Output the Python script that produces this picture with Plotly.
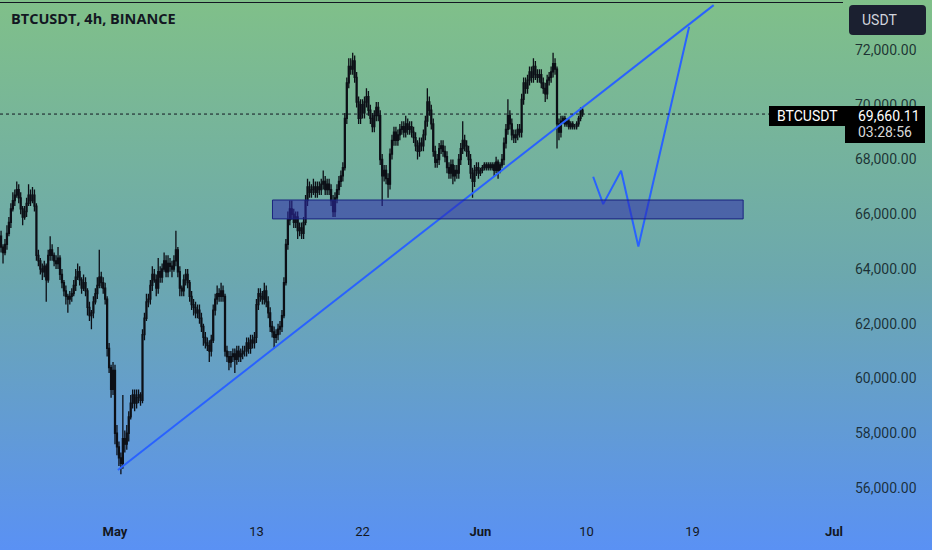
import base64
import pandas as pd
import plotly.graph_objects as go

# ---------------- data ----------------
start_time = "2024-04-21 00:00"
first_open = 64900

close = [
    65000, 65200, 64800, 64600, 64900, 65300,  # Apr 21
    65700, 66200, 66500, 66700, 66900, 66600,  # Apr 22
    66200, 65900, 66100, 66400, 66700, 66500,  # Apr 23
    66700, 66300, 64500, 64300, 64000, 63900,  # Apr 24
    64100, 63600, 64500, 64700, 64500, 64300,  # Apr 25
    64200, 64400, 63800, 63500, 63200, 63000,  # Apr 26
    62900, 63000, 63100, 63400, 63700, 63900,  # Apr 27
    63600, 63300, 63500, 63200, 62600, 62300,  # Apr 28
    62400, 62800, 63100, 63400, 63700, 63500,  # Apr 29
    63300, 62900, 61100, 60400, 59600, 60300,  # Apr 30
    58000, 57500, 57100, 56900, 57800, 57600,  # May 1
    58000, 58600, 59100, 59400, 59100, 59300,  # May 2
    59400, 59200, 61600, 62200, 62800, 62900,  # May 3
    63400, 63800, 63600, 63300, 63900, 63700,  # May 4
    64000, 64300, 63900, 64200, 64100, 64000,  # May 5
    64300, 64700, 63900, 63300, 63200, 63600,  # May 6
    63800, 63500, 63000, 62700, 62600, 62400,  # May 7
    62500, 62200, 61900, 61500, 61300, 61200,  # May 8
    61000, 61400, 62500, 62900, 63100, 63000,  # May 9
    63200, 63000, 61000, 60800, 60600, 60800,  # May 10
    60900, 60700, 61000, 60800, 60900, 61000,  # May 11
    61000, 61300, 61100, 61400, 61300, 61500,  # May 12
    62700, 63100, 63000, 62900, 63200, 62800,  # May 13
    62400, 61900, 61700, 61500, 61600, 61800,  # May 14
    61900, 62300, 63500, 64900, 65800, 66200,  # May 15
    66000, 65700, 65900, 65400, 65500, 65300,  # May 16
    65700, 66500, 67000, 66800, 66900, 67000,  # May 17
    66800, 67000, 66900, 67100, 67200, 66900,  # May 18
    67100, 66900, 66500, 66100, 66600, 66900,  # May 19
    67200, 67400, 67700, 69500, 70800, 71400,  # May 20
    71300, 71600, 71000, 70100, 69500, 70000,  # May 21
    69700, 70100, 70300, 69800, 69500, 69200,  # May 22
    69600, 69900, 69600, 68000, 67400, 67600,  # May 23
    67300, 67100, 68200, 68700, 69000, 68700,  # May 24
    68900, 69100, 69200, 69000, 69300, 69100,  # May 25
    69200, 69000, 68800, 68500, 68300, 68600,  # May 26
    68500, 68900, 69400, 70100, 69800, 69300,  # May 27
    68300, 67900, 68000, 68400, 68500, 68300,  # May 28
    68100, 67700, 67500, 67800, 67400, 67600,  # May 29
    67500, 68000, 68400, 68700, 68500, 68300,  # May 30
    68000, 67500, 67200, 67600, 67700, 67500,  # May 31
    67600, 67700, 67800, 67700, 67800, 67700,  # Jun 1
    67800, 67600, 67900, 67600, 67800, 68000,  # Jun 2
    68600, 69100, 69600, 69300, 68900, 68800,  # Jun 3
    68900, 69100, 69000, 70200, 70800, 70600,  # Jun 4
    70900, 71200, 71000, 71400, 71100, 71000,  # Jun 5
    71100, 70800, 70600, 70400, 70900, 71000,  # Jun 6
    71200, 71500, 71300, 69300, 69000, 69400,  # Jun 7
    69500, 69300, 69400, 69200, 69300, 69200,  # Jun 8
    69200, 69300, 69500, 69800, 69660.11,      # Jun 9
]

# wick lengths above / below the body, in hundreds of USDT
wick_up = [
    2, 3, 2, 1, 2, 3,   2, 2, 3, 2, 3, 2,   2, 1, 2, 2, 4, 2,   3, 2, 1, 2, 1, 2,
    2, 1, 2, 5, 2, 1,   2, 4, 1, 2, 1, 2,   1, 2, 2, 2, 3, 3,   2, 1, 3, 2, 1, 2,
    1, 2, 2, 3, 10, 2,  2, 2, 1, 2, 1, 3,   2, 3, 2, 2, 16, 3,  3, 2, 3, 2, 2, 3,
    2, 1, 2, 2, 3, 2,   2, 3, 2, 2, 5, 2,   2, 3, 2, 3, 2, 2,   2, 7, 1, 2, 1, 2,
    2, 2, 1, 2, 2, 2,   2, 2, 2, 1, 2, 2,   2, 2, 2, 2, 3, 2,   3, 2, 1, 2, 2, 2,
    2, 2, 2, 2, 2, 2,   2, 2, 2, 2, 2, 2,   2, 2, 2, 2, 3, 2,   2, 2, 2, 2, 2, 2,
    2, 2, 2, 2, 3, 3,   3, 2, 2, 2, 2, 2,   2, 2, 3, 2, 2, 3,   2, 2, 2, 2, 4, 2,
    2, 2, 2, 2, 2, 2,   2, 2, 2, 2, 2, 3,   3, 3, 2, 2, 2, 2,   2, 2, 3, 2, 2, 2,
    2, 2, 2, 2, 2, 2,   2, 2, 2, 2, 2, 2,   2, 2, 2, 2, 3, 2,   2, 2, 2, 2, 2, 2,
    2, 2, 2, 5, 2, 2,   2, 2, 2, 2, 2, 2,   2, 2, 2, 2, 2, 2,   2, 2, 2, 7, 2, 2,
    2, 2, 2, 2, 2, 2,   1, 1, 1, 1, 1, 1,   1, 1, 2, 1, 1, 2,   2, 2, 6, 2, 2, 2,
    2, 2, 2, 2, 2, 2,   2, 2, 2, 3, 2, 2,   2, 2, 2, 2, 2, 2,   2, 4, 2, 1, 2, 2,
    1, 1, 1, 1, 1, 1,   1, 1, 1, 1, 1,
]
wick_dn = [
    2, 2, 2, 4, 1, 2,   1, 2, 1, 2, 1, 2,   2, 3, 1, 2, 1, 2,   1, 2, 2, 2, 2, 3,
    2, 8, 1, 2, 2, 2,   2, 2, 2, 2, 2, 3,   5, 2, 2, 1, 2, 1,   2, 2, 1, 2, 3, 2,
    5, 2, 1, 2, 1, 2,   2, 2, 3, 2, 3, 2,   4, 3, 3, 4, 2, 3,   2, 3, 1, 2, 3, 2,
    2, 2, 1, 2, 1, 2,   2, 2, 1, 3, 2, 2,   2, 1, 2, 2, 2, 3,   1, 2, 2, 3, 2, 2,
    2, 2, 2, 2, 3, 2,   2, 2, 2, 3, 2, 2,   4, 2, 1, 2, 2, 2,   2, 2, 2, 2, 3, 2,
    2, 5, 2, 2, 2, 2,   2, 2, 2, 2, 2, 2,   2, 2, 2, 2, 2, 2,   2, 2, 2, 4, 2, 2,
    2, 2, 1, 1, 2, 2,   2, 2, 2, 3, 2, 2,   2, 1, 2, 2, 2, 2,   2, 2, 2, 2, 2, 2,
    2, 2, 2, 2, 2, 2,   2, 2, 2, 1, 2, 2,   2, 2, 2, 2, 2, 2,   2, 2, 2, 2, 2, 2,
    2, 2, 2, 2, 11, 2,  2, 5, 2, 2, 2, 2,   2, 2, 2, 2, 2, 2,   2, 2, 2, 2, 3, 2,
    2, 2, 2, 2, 2, 2,   2, 2, 2, 2, 2, 2,   2, 2, 2, 2, 3, 2,   2, 2, 2, 2, 2, 2,
    2, 2, 6, 2, 2, 2,   1, 1, 1, 1, 1, 1,   1, 2, 1, 3, 1, 1,   2, 2, 2, 2, 2, 2,
    2, 2, 2, 2, 2, 2,   2, 2, 2, 2, 2, 2,   2, 2, 2, 3, 2, 2,   2, 2, 2, 9, 3, 2,
    1, 1, 1, 1, 1, 1,   1, 1, 1, 1, 1,
]

last_price = 69660.11
last_price_text = "69,660.11"
countdown_text = "03:28:56"

# drawings
trend_t = ["2024-05-01 06:00", "2024-06-20 19:00"]
trend_p = [56660, 73640]
proj_t = ["2024-06-10 13:40", "2024-06-11 10:00", "2024-06-12 22:30",
          "2024-06-14 09:40", "2024-06-18 17:00"]
proj_p = [67370, 66370, 67590, 64820, 72850]
zone_t = ["2024-05-14 08:40", "2024-06-23 07:00"]
zone_p = [65830, 66520]

y_ticks = [56000, 58000, 60000, 62000, 64000, 66000, 68000, 70000, 72000]
x_ticks = ["2024-05-01", "2024-05-13", "2024-05-22", "2024-06-01",
           "2024-06-10", "2024-06-19", "2024-07-01"]
x_ticktext = ["<b>May</b>", "13", "22", "<b>Jun</b>", "10", "19", "<b>Jul</b>"]

# ---------------- build ----------------
n = len(close)
times = pd.date_range(start_time, periods=n, freq="4h")
opens = [first_open] + close[:-1]
highs = [max(o, c) + u * 100 for o, c, u in zip(opens, close, wick_up[:n])]
lows = [min(o, c) - d * 100 for o, c, d in zip(opens, close, wick_dn[:n])]

W, H = 932, 550
ML, MR, MT, MB = 0, 89, 3, 32
PW, PH = W - ML - MR, H - MT - MB


def px(x):
    return (x - ML) / PW


def py(y):
    return (MT + PH - y) / PH


candle_col = "#0c0f16"
fig = go.Figure()
fig.add_trace(go.Candlestick(
    x=times, open=opens, high=highs, low=lows, close=close,
    increasing=dict(line=dict(color=candle_col, width=1.3), fillcolor=candle_col),
    decreasing=dict(line=dict(color=candle_col, width=1.3), fillcolor=candle_col),
    whiskerwidth=0, showlegend=False, hoverinfo="skip",
))
blue = "#2962ff"
fig.add_trace(go.Scatter(x=trend_t, y=trend_p, mode="lines",
                         line=dict(color=blue, width=2), showlegend=False,
                         hoverinfo="skip"))
fig.add_trace(go.Scatter(x=proj_t, y=proj_p, mode="lines",
                         line=dict(color=blue, width=2), showlegend=False,
                         hoverinfo="skip"))

# gradient background
svg = ('<svg xmlns="http://www.w3.org/2000/svg" width="932" height="550" '
       'preserveAspectRatio="none"><defs><linearGradient id="g" x1="0" y1="0" '
       'x2="0" y2="1"><stop offset="0" stop-color="#80c089"/>'
       '<stop offset="0.5" stop-color="#6ca8ae"/>'
       '<stop offset="1" stop-color="#5a91f4"/></linearGradient></defs>'
       '<rect width="932" height="550" fill="url(#g)"/></svg>')
src = "data:image/svg+xml;base64," + base64.b64encode(svg.encode()).decode()

shapes = [
    # support zone
    dict(type="rect", xref="x", yref="y", x0=zone_t[0], x1=zone_t[1],
         y0=zone_p[0], y1=zone_p[1], fillcolor="rgba(45,40,170,0.55)",
         line=dict(color="#1a237e", width=1), layer="above"),
    # last price dotted line
    dict(type="line", xref="paper", yref="y", x0=0, x1=px(769),
         y0=last_price, y1=last_price,
         line=dict(color="#131722", width=1, dash="dot")),
    # top border line
    dict(type="line", xref="paper", yref="paper", x0=0, x1=px(843),
         y0=py(2.5), y1=py(2.5), line=dict(color="#131722", width=1.2)),
    # price label boxes
    dict(type="rect", xref="paper", yref="paper", x0=px(769), x1=px(845),
         y0=py(126), y1=py(106), fillcolor="#000000", line=dict(width=0)),
    dict(type="rect", xref="paper", yref="paper", x0=px(845), x1=px(925),
         y0=py(143), y1=py(106), fillcolor="#000000", line=dict(width=0)),
]
# USDT rounded button
x0b, x1b, y0b, y1b, r = 849, 926, 5, 35, 4
path = (f"M {px(x0b + r)},{py(y0b)} L {px(x1b - r)},{py(y0b)} "
        f"Q {px(x1b)},{py(y0b)} {px(x1b)},{py(y0b + r)} "
        f"L {px(x1b)},{py(y1b - r)} Q {px(x1b)},{py(y1b)} {px(x1b - r)},{py(y1b)} "
        f"L {px(x0b + r)},{py(y1b)} Q {px(x0b)},{py(y1b)} {px(x0b)},{py(y1b - r)} "
        f"L {px(x0b)},{py(y0b + r)} Q {px(x0b)},{py(y0b)} {px(x0b + r)},{py(y0b)} Z")
shapes.append(dict(type="path", xref="paper", yref="paper", path=path,
                   fillcolor="#1b2030", line=dict(width=0)))

lbl_font = "Roboto, Arial, sans-serif"
annotations = [
    dict(text="<b>BTCUSDT, 4h, BINANCE</b>", xref="paper", yref="paper",
         x=px(9), y=py(19), xanchor="left", yanchor="middle", showarrow=False,
         font=dict(family="Open Sans, Arial, sans-serif", size=14.5, color="#131722")),
    dict(text="USDT", xref="paper", yref="paper", x=px(860), y=py(20),
         xanchor="left", yanchor="middle", showarrow=False,
         font=dict(family=lbl_font, size=14, color="#d1d4dc")),
    dict(text="BTCUSDT", xref="paper", yref="paper", x=px(807), y=py(116),
         xanchor="center", yanchor="middle", showarrow=False,
         font=dict(family=lbl_font, size=14, color="#ffffff")),
    dict(text=last_price_text, xref="paper", yref="paper", x=px(856), y=py(116),
         xanchor="left", yanchor="middle", showarrow=False,
         font=dict(family=lbl_font, size=14, color="#ffffff")),
    dict(text=countdown_text, xref="paper", yref="paper", x=px(856), y=py(132),
         xanchor="left", yanchor="middle", showarrow=False,
         font=dict(family=lbl_font, size=14, color="#d8d8d8")),
]

fig.update_layout(
    width=W, height=H,
    margin=dict(l=ML, r=MR, t=MT, b=MB),
    paper_bgcolor="#6ca8ae", plot_bgcolor="rgba(0,0,0,0)",
    images=[dict(source=src, xref="paper", yref="paper", x=px(0), y=py(0),
                 sizex=W / PW, sizey=H / PH, xanchor="left", yanchor="top",
                 sizing="stretch", layer="below")],
    shapes=shapes, annotations=annotations,
    showlegend=False, hovermode=False,
    xaxis=dict(type="date", range=["2024-04-21 05:51", "2024-07-01 18:19"],
               rangeslider=dict(visible=False), showgrid=False, zeroline=False,
               showline=False, ticks="", tickvals=x_ticks, ticktext=x_ticktext,
               tickfont=dict(family=lbl_font, size=13, color="#131722"),
               ticklabelstandoff=4),
    yaxis=dict(side="right", range=[54904, 73717], showgrid=False,
               zeroline=False, showline=False, ticks="",
               tickvals=y_ticks, ticktext=[f"{v:,.2f}" for v in y_ticks],
               tickfont=dict(family=lbl_font, size=14, color="rgba(16,30,38,0.88)"),
               ticklabelstandoff=11),
)

fig.write_html(
    "out.html",
    config=dict(displayModeBar=False),
    post_script="document.body.style.margin='0';document.body.style.padding='0';"
                "document.documentElement.style.overflow='hidden';",
)
